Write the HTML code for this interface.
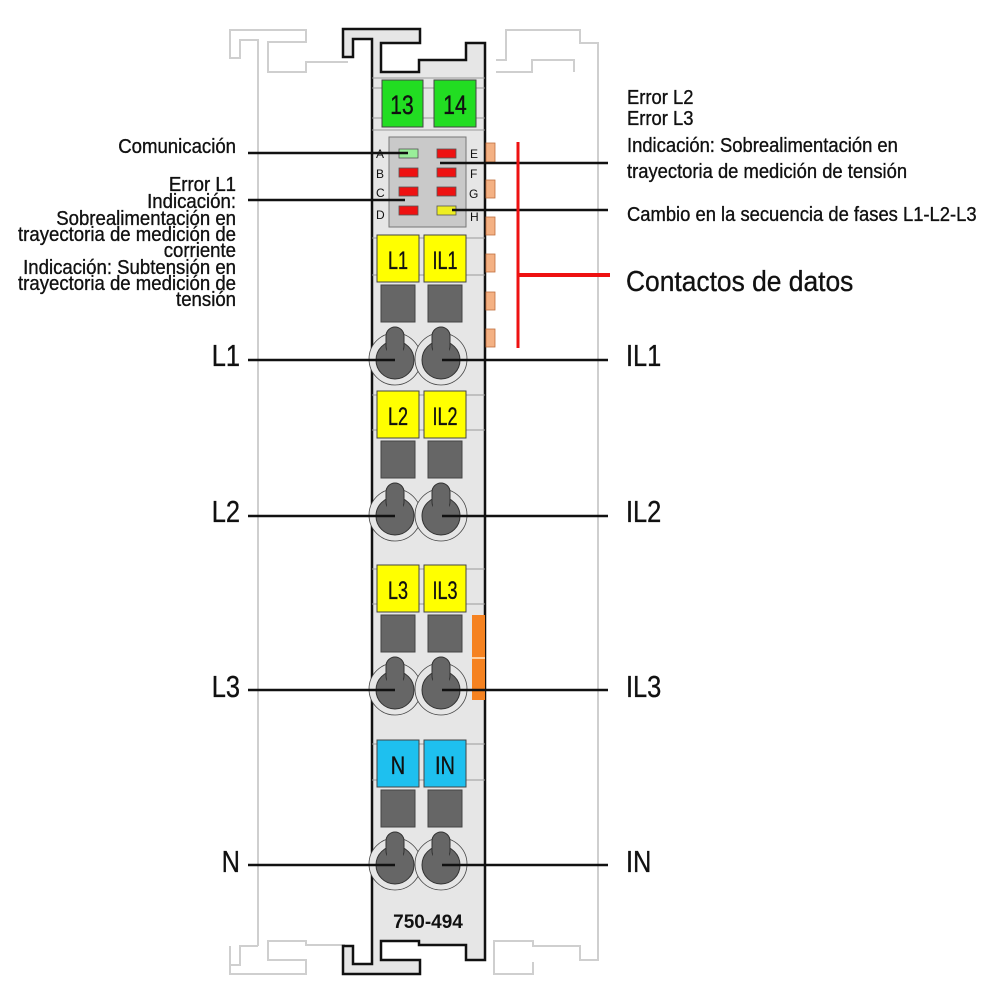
<!DOCTYPE html>
<html><head><meta charset="utf-8"><style>
html,body{margin:0;padding:0;background:#fff}
svg{display:block}
text{font-family:"Liberation Sans",sans-serif;fill:#111}
.t{stroke:#111;stroke-width:0.35}
</style></head><body>
<svg width="1004" height="1004" viewBox="0 0 1004 1004">
<g fill="none" stroke="#cfcfcf" stroke-width="2">
<polyline points="258,946 258,40 240,40 240,58 230,58 230,30 306,30 306,42 268,42 268,72 306,72 306,62 348,62"/>
<polyline points="598,946 598,43 580,43 580,30 506,30 506,60 496,60"/>
<polyline points="496,72 532,72 532,60 574,60 574,72"/>
<polyline points="258,946 240,946 240,965 230,965 230,946"/>
<polyline points="230,946 230,974 306,974 306,960 268,960 268,941 306,941 306,945 345,945"/>
<polyline points="598,946 598,960 580,960 580,946 533,946 533,941 494,941 494,974 533,974 533,962"/>
</g>
<path d="M343,29 L420,29 L420,43 L381,43 L381,72 L419,72 L419,60 L466,60 L466,43 L485,43 L485,960 L466,960 L466,945 L419,945 L419,941 L381,941 L381,960 L420,960 L420,974 L343,974 L343,946 L353,946 L353,964 L372,964 L372,39 L353,39 L353,57 L343,57 Z" fill="#e6e6e6" stroke="#111" stroke-width="2.5"/>
<g stroke="#999" stroke-width="1">
<line x1="372" y1="78" x2="485" y2="78"/><line x1="372" y1="88" x2="485" y2="88"/>
<line x1="372" y1="118" x2="485" y2="118"/><line x1="372" y1="130" x2="485" y2="130"/>
<line x1="372" y1="238" x2="485" y2="238"/><line x1="372" y1="275" x2="485" y2="275"/>
<line x1="372" y1="395" x2="485" y2="395"/><line x1="372" y1="430" x2="485" y2="430"/>
<line x1="372" y1="569" x2="485" y2="569"/><line x1="372" y1="604" x2="485" y2="604"/>
<line x1="372" y1="744" x2="485" y2="744"/><line x1="372" y1="780" x2="485" y2="780"/>
</g>
<rect x="382" y="80" width="41" height="47" fill="#22dd22" stroke="#444"/>
<rect x="434" y="80" width="42" height="47" fill="#22dd22" stroke="#444"/>
<text transform="translate(402,114) scale(0.78,1)" font-size="27" text-anchor="middle" class="t">13</text>
<text transform="translate(455,114) scale(0.78,1)" font-size="27" text-anchor="middle" class="t">14</text>
<rect x="389" y="137" width="77" height="90" fill="#c9c9c9" stroke="#777"/>
<g stroke="#555" stroke-width=".8">
<rect x="399" y="149" width="19" height="9" fill="#99ee99"/>
<rect x="437" y="149" width="19" height="9" fill="#ee1111"/>
<rect x="399" y="168" width="19" height="9" fill="#ee1111"/>
<rect x="437" y="168" width="19" height="9" fill="#ee1111"/>
<rect x="399" y="187" width="19" height="9" fill="#ee1111"/>
<rect x="437" y="187" width="19" height="9" fill="#ee1111"/>
<rect x="399" y="206" width="19" height="9" fill="#ee1111"/>
<rect x="437" y="206" width="19" height="9" fill="#eeee22"/>
</g>
<g font-size="12" fill="#333">
<text x="376" y="158">A</text><text x="376" y="178">B</text><text x="376" y="197">C</text><text x="376" y="219">D</text>
<text x="470" y="158">E</text><text x="470" y="178">F</text><text x="469" y="198">G</text><text x="470" y="221">H</text>
</g>
<g fill="#f4b183" stroke="#c07040" stroke-width=".8">
<rect x="486" y="143" width="9" height="19"/><rect x="486" y="180" width="9" height="18"/>
<rect x="486" y="217" width="9" height="18"/><rect x="486" y="254" width="9" height="18"/>
<rect x="486" y="292" width="9" height="18"/><rect x="486" y="329" width="9" height="18"/>
</g>
<rect x="472" y="615" width="13" height="85" fill="#f58220"/>
<line x1="472" y1="658" x2="485" y2="658" stroke="#ffd0a0" stroke-width="2"/>
<defs>
<g id="ring"><circle cx="0" cy="-1" r="26" fill="#e6e6e6" stroke="#444" stroke-width="0.8"/></g>
<g id="kh">
<circle cx="0" cy="0" r="19" fill="#666" stroke="#333"/>
<rect x="-9" y="-33" width="18" height="28" rx="9" fill="#666" stroke="#333"/>
<rect x="-8" y="-14" width="16" height="12" fill="#666"/>
</g>
<g id="row">
<rect x="377" y="0" width="42" height="47" stroke="#444"/>
<rect x="424" y="0" width="42" height="47" stroke="#444"/>
<rect x="381" y="50" width="34" height="37" fill="#666" stroke="#444"/>
<rect x="428" y="50" width="34" height="37" fill="#666" stroke="#444"/>
<use href="#ring" x="395" y="125"/><use href="#ring" x="441" y="125"/>
<use href="#kh" x="395" y="125"/><use href="#kh" x="441" y="125"/>
</g>
</defs>
<use href="#row" x="0" y="235" fill="#ffff00"/>
<use href="#row" x="0" y="391" fill="#ffff00"/>
<use href="#row" x="0" y="565" fill="#ffff00"/>
<use href="#row" x="0" y="740" fill="#1ec0ef"/>
<g font-size="25" text-anchor="middle" class="t">
<text transform="translate(398,269) scale(0.72,1)">L1</text>
<text transform="translate(445,269) scale(0.72,1)">IL1</text>
<text transform="translate(398,425) scale(0.72,1)">L2</text>
<text transform="translate(445,425) scale(0.72,1)">IL2</text>
<text transform="translate(398,599) scale(0.72,1)">L3</text>
<text transform="translate(445,599) scale(0.72,1)">IL3</text>
<text transform="translate(398,774) scale(0.8,1)">N</text>
<text transform="translate(445,774) scale(0.8,1)">IN</text>
</g>
<text x="428" y="928" font-size="19" font-weight="bold" text-anchor="middle">750-494</text>
<g stroke="#111" stroke-width="2.5">
<line x1="248" y1="153" x2="408" y2="153"/>
<line x1="248" y1="200" x2="405" y2="200"/>
<line x1="440" y1="163" x2="608" y2="163"/>
<line x1="452" y1="210" x2="608" y2="210"/>
<line x1="248" y1="360" x2="395" y2="360"/><line x1="442" y1="360" x2="608" y2="360"/>
<line x1="248" y1="516" x2="395" y2="516"/><line x1="442" y1="516" x2="608" y2="516"/>
<line x1="248" y1="690" x2="395" y2="690"/><line x1="442" y1="690" x2="608" y2="690"/>
<line x1="248" y1="865" x2="395" y2="865"/><line x1="442" y1="865" x2="608" y2="865"/>
</g>
<g stroke="#ee1111">
<line x1="518" y1="142" x2="518" y2="348" stroke-width="3"/>
<line x1="518" y1="275" x2="610" y2="275" stroke-width="4"/>
</g>
<g transform="translate(236,0) scale(0.93,1)" font-size="20" text-anchor="end" class="t">
<text x="0" y="153">Comunicación</text>
<text x="0" y="191">Error L1</text>
<text x="0" y="208">Indicación:</text>
<text x="0" y="225">Sobrealimentación en</text>
<text x="0" y="241">trayectoria de medición de</text>
<text x="0" y="257">corriente</text>
<text x="0" y="274">Indicación: Subtensión en</text>
<text x="0" y="290">trayectoria de medición de</text>
<text x="0" y="306">tensión</text>
</g>
<g transform="translate(627,0) scale(0.92,1)" font-size="20" class="t">
<text x="0" y="104">Error L2</text>
<text x="0" y="125">Error L3</text>
<text x="0" y="152">Indicación: Sobrealimentación en</text>
<text x="0" y="178">trayectoria de medición de tensión</text>
<text x="0" y="221">Cambio en la secuencia de fases L1-L2-L3</text>
</g>
<text transform="translate(626,291) scale(0.91,1)" font-size="29" class="t">Contactos de datos</text>
<g font-size="31" text-anchor="end" class="t">
<text transform="translate(240,366) scale(0.82,1)">L1</text>
<text transform="translate(240,522) scale(0.82,1)">L2</text>
<text transform="translate(240,697) scale(0.82,1)">L3</text>
<text transform="translate(240,872) scale(0.82,1)">N</text>
</g>
<g font-size="31" class="t">
<text transform="translate(626,366) scale(0.82,1)">IL1</text>
<text transform="translate(626,522) scale(0.82,1)">IL2</text>
<text transform="translate(626,697) scale(0.82,1)">IL3</text>
<text transform="translate(626,872) scale(0.82,1)">IN</text>
</g>
</svg>
</body></html>
